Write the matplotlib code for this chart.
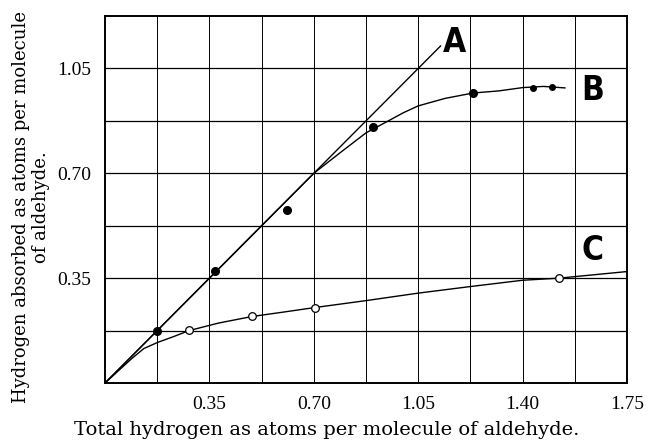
import matplotlib
matplotlib.use("Agg")
import matplotlib.pyplot as plt

# straight line A (y = x)
a_x = [0.0, 1.125]
a_y = [0.0, 1.125]

# curve B
b_curve_x = [0.0, 0.70, 0.79, 0.875, 0.95, 1.0, 1.05, 1.14, 1.234, 1.32, 1.40, 1.47, 1.542]
b_curve_y = [0.0, 0.70, 0.77, 0.835, 0.875, 0.902, 0.925, 0.950, 0.968, 0.975, 0.986, 0.990, 0.985]
b_pts_x = [0.175, 0.37, 0.61, 0.90, 1.234]
b_pts_y = [0.175, 0.373, 0.579, 0.855, 0.968]
b_small_x = [1.435, 1.50]
b_small_y = [0.986, 0.989]

# curve C
c_curve_x = [0.0, 0.09, 0.13, 0.175, 0.23, 0.282, 0.38, 0.493, 0.60, 0.704,
             0.875, 1.05, 1.225, 1.40, 1.522, 1.75]
c_curve_y = [0.0, 0.082, 0.115, 0.135, 0.155, 0.175, 0.200, 0.222, 0.237, 0.252,
             0.275, 0.300, 0.322, 0.343, 0.350, 0.372]
c_pts_x = [0.28, 0.493, 0.704, 1.522]
c_pts_y = [0.176, 0.222, 0.252, 0.350]

x_ticks = [0.35, 0.70, 1.05, 1.40, 1.75]
y_ticks = [0.35, 0.70, 1.05]
grid_step = 0.175

serif = ["Liberation Serif", "DejaVu Serif"]
wide_serif = ["DejaVu Serif"]

fig = plt.figure(figsize=(6.54, 4.41), dpi=100)
ax = fig.add_axes([0.1606, 0.1315, 0.7981, 0.8322])

ax.set_xlim(0, 1.75)
ax.set_ylim(0, 1.225)

for i in range(1, 10):
    ax.axvline(i * grid_step, color="black", lw=0.7, zorder=1)
for i in range(1, 7):
    ax.axhline(i * grid_step, color="black", lw=0.9, zorder=1)

ax.plot(a_x, a_y, color="black", lw=1.0, zorder=2)
ax.plot(b_curve_x, b_curve_y, color="black", lw=1.0, zorder=2)
ax.plot(c_curve_x, c_curve_y, color="black", lw=1.0, zorder=2)

ax.plot(b_pts_x, b_pts_y, "o", color="black", ms=5.5, zorder=3)
ax.plot(b_small_x, b_small_y, "o", color="black", ms=4, zorder=3)
ax.plot(c_pts_x, c_pts_y, "o", mfc="white", mec="black", mew=0.9, ms=5.5, zorder=3)

ax.set_xticks(x_ticks)
ax.set_xticklabels([f"{v:.2f}" for v in x_ticks], family=serif, fontsize=14)
ax.set_yticks(y_ticks)
ax.set_yticklabels([f"{v:.2f}" for v in y_ticks], family=serif, fontsize=14)
ax.tick_params(axis="x", length=0, pad=9)
ax.tick_params(axis="y", length=0, pad=10)

for s in ax.spines.values():
    s.set_linewidth(1.4)

label_font = dict(family=["DejaVu Sans"], fontweight="bold", fontstretch="condensed",
                  fontsize=24, ha="center", va="center")
ax.text(1.17, 1.137, "A", **label_font)
ax.text(1.636, 0.976, "B", **label_font)
ax.text(1.636, 0.441, "C", **label_font)

fig.text(0.499, 0.025, "Total hydrogen as atoms per molecule of aldehyde.",
         family=wide_serif, fontsize=14, ha="center", va="center")
fig.text(0.048, 0.53, "Hydrogen absorbed as atoms per molecule\nof aldehyde.",
         family=wide_serif, fontsize=13, ha="center", va="center", rotation=90,
         linespacing=1.15)

fig.savefig("out.png", dpi=100)
